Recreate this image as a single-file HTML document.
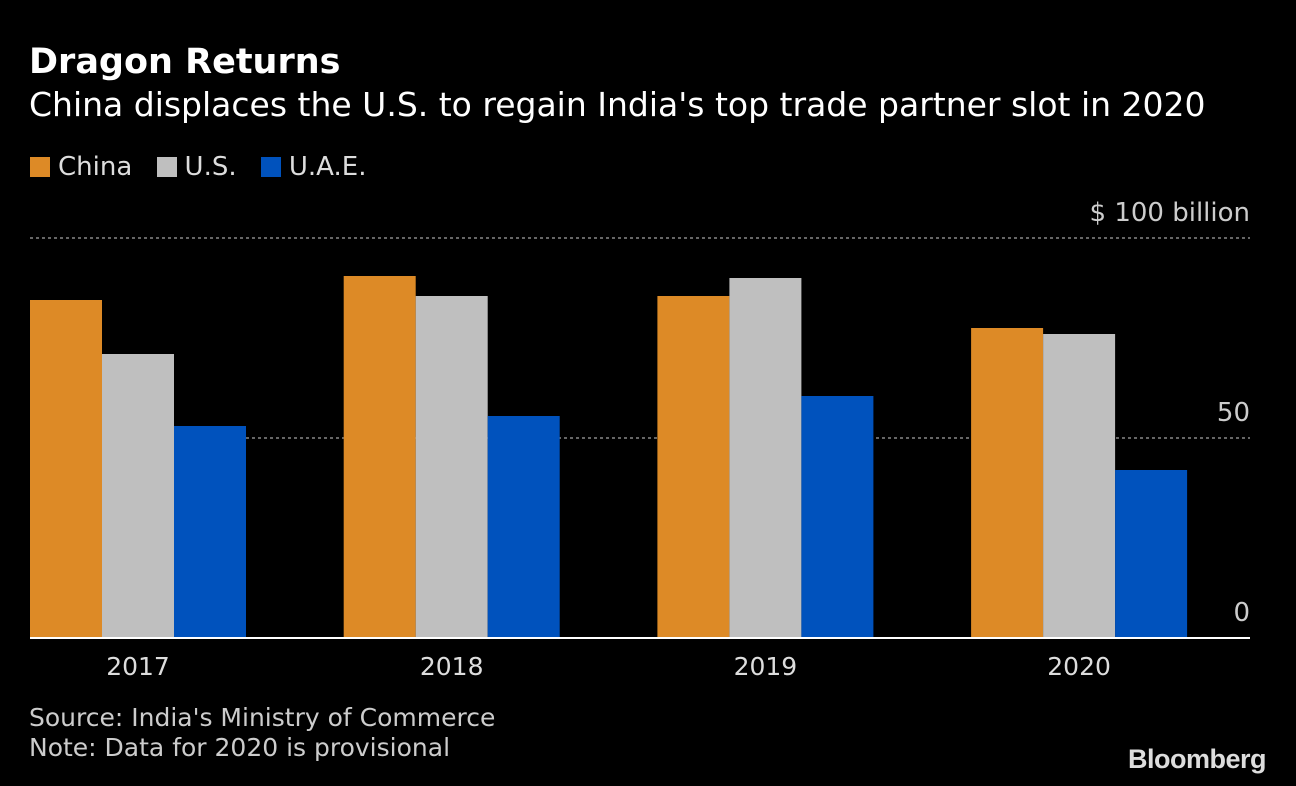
<!DOCTYPE html>
<html><head><meta charset="utf-8"><style>
html,body{margin:0;padding:0;background:#000;}
body{width:1296px;height:786px;overflow:hidden;position:relative;font-family:"DejaVu Sans","Liberation Sans",sans-serif;color:#fff;}
.t{position:absolute;white-space:nowrap;}
</style></head><body>
<div class="t" style="left:29px;top:42px;font-size:35px;font-weight:bold;">Dragon Returns</div>
<div class="t" style="left:29px;top:85px;font-size:33px;">China displaces the U.S. to regain India's top trade partner slot in 2020</div>
<div class="t" style="left:30px;top:152px;font-size:26px;color:#ddd;">
<span><span style="display:inline-block;width:20px;height:20px;background:#dd8a26;vertical-align:-2px;margin-right:8px"></span>China</span>
<span style="margin-left:16px"><span style="display:inline-block;width:20px;height:20px;background:#bfbfbf;vertical-align:-2px;margin-right:8px"></span>U.S.</span>
<span style="margin-left:16px"><span style="display:inline-block;width:20px;height:20px;background:#0052bd;vertical-align:-2px;margin-right:8px"></span>U.A.E.</span>
</div>
<svg id="chart" width="1296" height="786" style="position:absolute;left:0;top:0"></svg>
<div class="t" style="left:29px;top:703px;font-size:25px;color:#ccc;">Source: India's Ministry of Commerce</div>
<div class="t" style="left:29px;top:733px;font-size:25px;color:#ccc;">Note: Data for 2020 is provisional</div>
<div class="t" style="left:1128px;top:744px;font-family:'Liberation Sans',sans-serif;font-size:27px;font-weight:bold;color:#ddd;letter-spacing:-0.5px;">Bloomberg</div>
<script>
const categories=["2017","2018","2019","2020"];
const china=[84.5,90.5,85.5,77.5];
const us=[71,85.5,90,76];
const uae=[53,55.5,60.5,42];
const ticks=[0,50,100];
const tickLabels=["0","50","$ 100  billion"];
const NS="http://www.w3.org/2000/svg";
const svg=document.getElementById("chart");
const y=v=>638-v*4;
const gx=i=>30+i*313.7;
function mk(tag,at){const e=document.createElementNS(NS,tag);for(const k in at)e.setAttribute(k,at[k]);svg.appendChild(e);return e;}
ticks.forEach((t,i)=>{
 if(t>0){const l=mk("line",{x1:30,x2:1250,y1:y(t),y2:y(t),stroke:"#888","stroke-width":1.5,"stroke-dasharray":"3,3"});
 
 }
 const tx=mk("text",{x:1250,y:y(t)-17,"text-anchor":"end","font-size":26,fill:"#ccc","font-family":"DejaVu Sans"});
 tx.textContent=tickLabels[i];
 
 
});
const series=[[china,"#dd8a26","china"],[us,"#bfbfbf","us"],[uae,"#0052bd","uae"]];
categories.forEach((c,i)=>{
 series.forEach(([arr,col,n],j)=>{
  const r=mk("rect",{x:gx(i)+j*72,y:y(arr[i]),width:72,height:arr[i]*4,fill:col});
  
  
 });
 const tx=mk("text",{x:gx(i)+108,y:675,"text-anchor":"middle","font-size":25,fill:"#ddd","font-family":"DejaVu Sans"});
 tx.textContent=c;
 
 
});
const b=mk("line",{x1:30,x2:1250,y1:638,y2:638,stroke:"#fff","stroke-width":2});


</script>
</body></html>
